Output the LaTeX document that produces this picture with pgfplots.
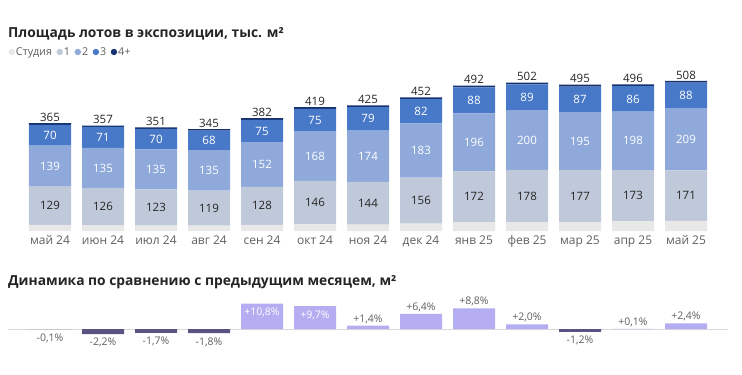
\documentclass[border=0pt]{standalone}
\usepackage{fontspec}
\setmainfont{Open Sans}
\usepackage{pgfplots}
\pgfplotsset{compat=1.18}
\usepackage{pgfplotstable}

\definecolor{cStudio}{HTML}{E8E8E8}
\definecolor{cOne}{HTML}{BFC9D9}
\definecolor{cTwo}{HTML}{8EA9DA}
\definecolor{cThree}{HTML}{4879C9}
\definecolor{cFour}{HTML}{16326F}
\definecolor{cPos}{HTML}{B4ADF1}
\definecolor{cNeg}{HTML}{5B5281}
\definecolor{cDark}{HTML}{252423}
\definecolor{cGray}{HTML}{605E5C}
\definecolor{cZero}{HTML}{D9D9D9}

\pgfplotstableread{
x s a b c d t m1 m2 m3
0 21 129 139 70 6 365 85.5 219.5 324
1 20 126 135 71 5 357 83 213.5 316.5
2 18 123 135 70 5 351 79.5 208.5 311
3 18 119 135 68 5 345 77.5 204.5 306
4 21 128 152 75 6 382 85 225 338.5
5 24 146 168 75 6 419 97 254 375.5
6 22 144 174 79 6 425 94 253 379.5
7 25 156 183 82 6 452 103 272.5 405
8 30 172 196 88 6 492 116 300 442
9 29 178 200 89 6 502 118 307 451.5
10 30 177 195 87 6 495 118.5 304.5 445.5
11 33 173 198 86 6 496 119.5 305 447
12 34 171 209 88 6 508 119.5 309.5 458
}\datatop

\pgfplotsset{
  topframe/.style={
    x=53pt, y=0.2955pt, xmin=-0.5, xmax=12.5, ymin=0, ymax=530,
    anchor=south west, at={(23.5pt,-231pt)},
    axis line style={draw=none}, ytick=\empty, major tick length=0pt,
    clip=false,
  },
}

\begin{document}
\begin{tikzpicture}
\useasboundingbox (0,0) rectangle (742pt,-375pt);

\node[anchor=base west, inner sep=0pt, font=\fontsize{13.8}{16}\selectfont\bfseries, text=cDark] at (8pt,-37pt) {Площадь лотов в экспозиции, тыс. м²};
\node[anchor=base west, inner sep=0pt, font=\fontsize{13.8}{16}\selectfont\bfseries, text=cDark] at (8pt,-285pt) {Динамика по сравнению с предыдущим месяцем, м²};

% stacked bars
\begin{axis}[topframe,
  ybar stacked, bar width=42pt,
  xtick={0,...,12},
  xticklabels={май 24,июн 24,июл 24,авг 24,сен 24,окт 24,ноя 24,дек 24,янв 25,фев 25,мар 25,апр 25,май 25},
  xticklabel style={font=\fontsize{12}{14}\selectfont, text=cGray, yshift=-1pt},
  legend style={at={(-0.022,1.143)}, anchor=west, draw=none, fill=none,
    legend columns=-1, inner sep=0pt, font=\fontsize{10.8}{12}\selectfont,
    text=cGray, /tikz/every even column/.append style={column sep=3.5pt},
    nodes={inner sep=1pt}},
]
\addplot[fill=cStudio, draw=none, legend image code/.code={\fill[cStudio] (3pt,0pt) circle (3.2pt);}] table[x=x,y=s]{\datatop};
\addlegendentry{Студия}
\addplot[fill=cOne, draw=none, legend image code/.code={\fill[cOne] (3pt,0pt) circle (3.2pt);}] table[x=x,y=a]{\datatop};
\addlegendentry{1}
\addplot[fill=cTwo, draw=none, legend image code/.code={\fill[cTwo] (3pt,0pt) circle (3.2pt);}] table[x=x,y=b]{\datatop};
\addlegendentry{2}
\addplot[fill=cThree, draw=none, legend image code/.code={\fill[cThree] (3pt,0pt) circle (3.2pt);}] table[x=x,y=c]{\datatop};
\addlegendentry{3}
\addplot[fill=cFour, draw=none, legend image code/.code={\fill[cFour] (3pt,0pt) circle (3.2pt);}] table[x=x,y=d]{\datatop};
\addlegendentry{4+}
\end{axis}

% labels for stacked bars
\begin{axis}[topframe, xtick=\empty, point meta=explicit symbolic]
\addplot[draw=none, mark=none, nodes near coords,
  nodes near coords style={anchor=center, text=cDark, font=\fontsize{11.5}{13}\selectfont}]
  table[x=x,y=m1,meta=a]{\datatop};
\addplot[draw=none, mark=none, nodes near coords,
  nodes near coords style={anchor=center, text=white, font=\fontsize{11.5}{13}\selectfont}]
  table[x=x,y=m2,meta=b]{\datatop};
\addplot[draw=none, mark=none, nodes near coords,
  nodes near coords style={anchor=center, text=white, font=\fontsize{11.5}{13}\selectfont}]
  table[x=x,y=m3,meta=c]{\datatop};
\addplot[draw=none, mark=none, nodes near coords,
  nodes near coords style={anchor=south, inner sep=1.5pt, text=cDark, font=\fontsize{11.5}{13}\selectfont}]
  table[x=x,y=t,meta=t]{\datatop};
\end{axis}

% change chart
\begin{axis}[
  x=53pt, y=2.35pt, xmin=-0.8, xmax=12.8, ymin=-4, ymax=12,
  anchor=south west, at={(7.6pt,-338.4pt)},
  axis line style={draw=none}, xtick=\empty, ytick=\empty,
  extra y ticks={0}, extra y tick labels={},
  extra y tick style={grid=major, major grid style={cZero, line width=0.8pt}, major tick length=0pt},
  ybar, bar width=42pt, bar shift=0pt, clip=false,
  point meta=explicit symbolic,
  nodes near coords,
  nodes near coords style={font=\fontsize{10.5}{12}\selectfont, text=cGray, inner sep=2pt},
]
\addplot[fill=cNeg, draw=none, nodes near coords style={anchor=north, yshift=-2pt}] coordinates {(0,-0.1) [-0,1\%] (1,-2.2) [-2,2\%] (2,-1.7) [-1,7\%] (3,-1.8) [-1,8\%] (10,-1.2) [-1,2\%]};
\addplot[fill=cPos, draw=none, nodes near coords style={anchor=south}] coordinates {(6,1.4) [+1,4\%] (7,6.4) [+6,4\%] (8,8.8) [+8,8\%] (9,2.0) [+2,0\%] (11,0.1) [+0,1\%] (12,2.4) [+2,4\%]};
\addplot[fill=cPos, draw=none, nodes near coords style={anchor=north, text=white, yshift=-2.5pt}] coordinates {(4,10.8) [+10,8\%] (5,9.7) [+9,7\%]};
\end{axis}
\end{tikzpicture}
\end{document}
